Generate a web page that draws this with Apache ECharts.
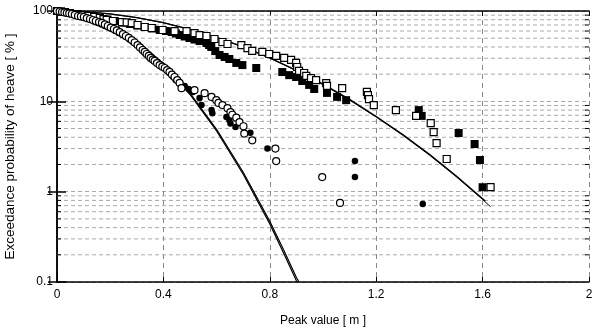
<!DOCTYPE html>
<html><head><meta charset="utf-8">
<script src="https://cdn.jsdelivr.net/npm/echarts@6/dist/echarts.min.js"></script>
<style>html,body{margin:0;padding:0;background:#fff}#c{width:594px;height:334px}</style>
</head><body><div id="c"></div>
<script>
// ---- data ----
const openCircles = [[0,100],[0.01,99],[0.019,97.5],[0.028,96.5],[0.037,95.0],[0.046,94],[0.056,92.6],[0.067,90.5],[0.079,88.0],[0.09,87],[0.101,85.8],[0.112,83.5],[0.124,81.6],[0.135,79.5],[0.146,77.5],[0.158,75.5],[0.169,73.7],[0.18,71],[0.191,68.2],[0.202,65.5],[0.214,63.2],[0.225,61],[0.236,58.5],[0.248,55.5],[0.259,52.9],[0.27,50.5],[0.281,47.7],[0.292,44.8],[0.303,42.0],[0.312,39.5],[0.322,37.0],[0.33,35.2],[0.337,33.4],[0.345,31.8],[0.352,30.2],[0.36,29],[0.367,28.0],[0.376,26.5],[0.386,25.2],[0.396,24.2],[0.405,23.4],[0.414,22.2],[0.423,21.2],[0.432,19.8],[0.442,18.6],[0.452,17.2],[0.461,16.0],[0.468,14.0],[0.517,13.3],[0.555,12.3],[0.581,11.2],[0.599,10.3],[0.607,9.6],[0.622,9.1],[0.641,8.4],[0.652,7.6],[0.659,7.1],[0.674,6.6],[0.686,5.9],[0.701,5.3],[0.704,4.4],[0.734,3.7],[0.821,3.0],[0.824,2.18],[0.997,1.45],[1.064,0.75]];
const filledCircles = [[0,100],[0.012,98.5],[0.022,97.5],[0.035,95.5],[0.049,92.6],[0.062,90.5],[0.075,88.0],[0.088,86],[0.101,83.7],[0.114,81.5],[0.127,79.5],[0.14,76.5],[0.154,73.7],[0.167,71],[0.180,68.2],[0.193,65.5],[0.206,63.2],[0.219,60],[0.232,57.1],[0.245,54.5],[0.259,51.5],[0.272,48.5],[0.285,45.4],[0.298,42.5],[0.311,40.0],[0.322,37.5],[0.333,35.2],[0.345,33],[0.356,30.9],[0.367,29],[0.378,27.2],[0.39,25.5],[0.401,24.0],[0.412,22.2],[0.423,20.6],[0.435,18.8],[0.446,17.2],[0.463,16],[0.480,14.8],[0.495,13.7],[0.510,12.7],[0.536,10.9],[0.543,9.1],[0.581,8.0],[0.584,7.4],[0.637,6.7],[0.648,6.2],[0.652,5.7],[0.671,5.2],[0.727,4.5],[0.791,3.0],[1.120,2.18],[1.120,1.45],[1.375,0.73]];
const openSquares = [[0,100],[0.015,99],[0.03,97.5],[0.048,95],[0.067,92.6],[0.09,90.5],[0.116,88.0],[0.14,86],[0.161,83.7],[0.175,81.5],[0.187,79.5],[0.21,77.5],[0.244,75.5],[0.262,74.8],[0.281,73.6],[0.303,70.0],[0.33,66.5],[0.356,64.8],[0.397,61.6],[0.442,60.0],[0.487,60.0],[0.517,57.0],[0.536,54.2],[0.562,52.9],[0.592,49.0],[0.622,45.4],[0.641,43.1],[0.693,42.0],[0.716,38.9],[0.734,36.1],[0.772,35.2],[0.798,33.4],[0.824,31.8],[0.854,30.2],[0.880,28.7],[0.899,26.6],[0.903,24.0],[0.910,21.7],[0.929,20.6],[0.937,19.1],[0.955,18.1],[0.974,17.2],[1.012,15.9],[1.015,14.8],[1.072,14.0],[1.165,12.7],[1.169,11.7],[1.173,10.6],[1.191,9.1],[1.274,8.0],[1.35,6.9],[1.405,5.75],[1.416,4.57],[1.427,3.45],[1.465,2.3],[1.63,1.12]];
const filledSquares = [[0,100],[0.025,97.5],[0.049,95],[0.077,92.5],[0.105,90.3],[0.133,87],[0.161,83.7],[0.19,80.5],[0.217,77.5],[0.245,74.5],[0.274,71.8],[0.302,69],[0.33,66.5],[0.358,64],[0.386,61.6],[0.41,60],[0.431,58.5],[0.447,56.3],[0.461,54.2],[0.48,52.2],[0.498,50.2],[0.517,48.3],[0.536,46.5],[0.562,44.2],[0.572,42],[0.58,40.0],[0.595,36.0],[0.611,32.6],[0.63,31],[0.648,29.4],[0.674,26.6],[0.697,25.2],[0.749,23.4],[0.847,21.1],[0.873,19.5],[0.899,18.6],[0.922,16.8],[0.948,15.2],[0.967,13.7],[1.015,12.4],[1.053,11.2],[1.087,10.3],[1.36,8.0],[1.371,6.9],[1.51,4.46],[1.57,3.37],[1.59,2.24],[1.60,1.12]];
const fitCircleA = [[0,100],[0.1,91.8],[0.2,71.2],[0.3,46.6],[0.4,25.7],[0.5,11.9],[0.6,4.7],[0.7,1.56],[0.8,0.44],[0.85,0.215],[0.9,0.103],[0.903,0.1]];
const fitCircleB = [[0,100],[0.1,91.9],[0.2,71.5],[0.3,47.0],[0.4,26.1],[0.5,12.3],[0.6,4.9],[0.7,1.64],[0.8,0.47],[0.85,0.233],[0.9,0.112],[0.91,0.1]];
const fitSquareA = [[0,100],[0.1,98.2],[0.2,92.8],[0.3,84.6],[0.4,74.2],[0.5,62.7],[0.6,51.1],[0.7,40.1],[0.8,30.3],[0.9,22.0],[1.0,15.5],[1.1,10.5],[1.2,6.8],[1.3,4.3],[1.4,2.6],[1.5,1.5],[1.61,0.79]];
const fitSquareB = [[0,100],[0.1,98.2],[0.2,92.75],[0.3,84.5],[0.4,74.0],[0.5,62.5],[0.6,50.9],[0.7,39.9],[0.8,30.1],[0.9,21.8],[1.0,15.3],[1.1,10.3],[1.2,6.7],[1.3,4.2],[1.4,2.54],[1.5,1.47],[1.6,0.82],[1.63,0.68]];
const minorYValues = [0.2,0.3,0.4,0.5,0.6,0.7,0.8,0.9,2,3,4,5,6,7,8,9,20,30,40,50,60,70,80,90];
const xMin = 0, xMax = 2, xStep = 0.4;
const yMin = 0.1, yMax = 100;

const FONT = 'Liberation Sans, Arial, sans-serif';
const chart = echarts.init(document.getElementById('c'), null, {renderer:'canvas'});
const axisLineStyle = {color:'#000', width:1.5};
function minorRender(params, api){
  const v = api.value(0);
  const p1 = api.coord([xMin, v]);
  const p2 = api.coord([xMax, v]);
  return {type:'group', children:[
    {type:'line', shape:{x1:p1[0],y1:p1[1],x2:p2[0],y2:p2[1]}, style:{stroke:'#aaa', lineWidth:1, lineDash:[4,3]}, silent:true},
    {type:'line', shape:{x1:p1[0],y1:p1[1],x2:p1[0]+4,y2:p1[1]}, style:{stroke:'#000', lineWidth:1}},
    {type:'line', shape:{x1:p2[0]-4,y1:p2[1],x2:p2[0],y2:p2[1]}, style:{stroke:'#000', lineWidth:1}}
  ]};
}
const openStyle = {color:'#fff', borderColor:'#000', borderWidth:1.2, opacity:1};
const filledStyle = {color:'#000', opacity:1};
chart.setOption({
  backgroundColor:'#fff',
  animation:false,
  grid:{left:57, right:5, top:11, bottom:52, containLabel:false, outerBoundsMode:'none'},
  xAxis:[{
    type:'value', min:xMin, max:xMax, interval:xStep, position:'bottom',
    name:'Peak value [ m ]', nameLocation:'middle', nameGap:33,
    nameTextStyle:{fontFamily:FONT, fontSize:12, color:'#000'},
    axisLine:{lineStyle:axisLineStyle},
    axisTick:{inside:true, length:5, lineStyle:{color:'#000'}},
    axisLabel:{fontFamily:FONT, fontSize:12, color:'#000', margin:7},
    splitLine:{show:true, lineStyle:{color:'#888', type:[5,4], width:1}}
  },{
    type:'value', min:xMin, max:xMax, interval:xStep, position:'top',
    axisLine:{lineStyle:axisLineStyle},
    axisTick:{inside:true, length:5, lineStyle:{color:'#000'}},
    axisLabel:{show:false}, splitLine:{show:false}
  }],
  yAxis:[{
    type:'log', logBase:10, min:yMin, max:yMax, position:'left',
    name:'Exceedance probability of heave [ % ]', nameLocation:'middle', nameGap:40,
    nameTextStyle:{fontFamily:FONT, fontSize:13.5, color:'#000'},
    axisLine:{lineStyle:axisLineStyle},
    axisTick:{inside:true, length:9, lineStyle:{color:'#000', width:1.5}},
    axisLabel:{fontFamily:FONT, fontSize:12, color:'#000', margin:4},
    splitLine:{show:true, lineStyle:{color:'#aaa', type:[4,3], width:1}}
  },{
    type:'log', logBase:10, min:yMin, max:yMax, position:'right',
    axisLine:{lineStyle:axisLineStyle},
    axisTick:{inside:true, length:9, lineStyle:{color:'#000', width:1.5}},
    axisLabel:{show:false}, splitLine:{show:false}
  }],
  series:[
    {type:'custom', renderItem:minorRender, data:minorYValues.map(v=>[v]), encode:{y:0}, silent:true, z:1},
    {type:'line', data:fitSquareA, showSymbol:false, symbol:'none', lineStyle:{color:'#000', width:1.3}, z:3},
    {type:'line', data:fitSquareB, showSymbol:false, symbol:'none', lineStyle:{color:'#000', width:1}, z:3},
    {type:'line', data:fitCircleA, showSymbol:false, symbol:'none', lineStyle:{color:'#000', width:1.2}, z:3},
    {type:'line', data:fitCircleB, showSymbol:false, symbol:'none', lineStyle:{color:'#000', width:1.2}, z:3},
    {type:'scatter', data:filledSquares, symbol:'rect', symbolSize:8, itemStyle:filledStyle, z:4},
    {type:'scatter', data:openSquares, symbol:'rect', symbolSize:7, itemStyle:openStyle, z:5},
    {type:'scatter', data:filledCircles, symbol:'circle', symbolSize:6.5, itemStyle:filledStyle, z:4},
    {type:'scatter', data:openCircles, symbol:'circle', symbolSize:7, itemStyle:openStyle, z:5}
  ]
});
</script></body></html>
